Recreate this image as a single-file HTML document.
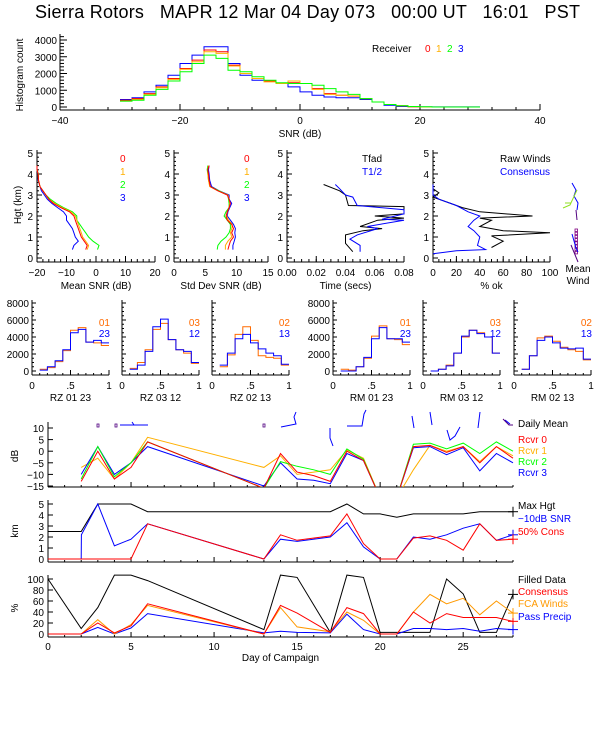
<!DOCTYPE html>
<html><head><meta charset="utf-8"><style>
html,body{margin:0;padding:0;background:#fff;}
svg{display:block;font-family:"Liberation Sans",sans-serif;}
</style></head><body>
<svg id="chart" width="600" height="750" viewBox="0 0 600 750" xmlns="http://www.w3.org/2000/svg">
<defs>
<clipPath id="clipdb"><rect x="48" y="420" width="470" height="67"/></clipPath>
</defs>
<text x="35" y="18" font-size="18" fill="#000" textLength="545" lengthAdjust="spacing" xml:space="preserve">Sierra Rotors   MAPR 12 Mar 04 Day 073   00:00 UT   16:01   PST</text>
</svg>
<script>
// ---- Histogram (SNR) data: 2 dB bins starting at -30 ----
const histEdgeStart = -30;
const histBinWidth = 2;
const histRcvr0 = [400,500,800,1200,1700,2300,2800,3400,3300,2500,2000,1700,1550,1400,1450,1400,1100,800,700,650,500,300,150,80,20,0,0,0,0,0];
const histRcvr1 = [350,450,750,1150,1650,2250,2700,3300,3200,2450,2000,1700,1500,1400,1550,1400,1050,750,700,650,500,300,150,80,20,0,0,0,0,0];
const histRcvr2 = [350,400,700,1050,1550,2100,2600,3100,2900,2200,2100,1800,1600,1450,1400,1400,1300,1100,900,750,500,300,150,80,30,10,0,0,0,0];
const histRcvr3 = [450,550,900,1300,1900,2600,3100,3600,3600,2600,1900,1600,1550,1400,1200,900,700,600,550,550,450,300,100,30,10,5,5,5,5,5];
const histXTicks = [-40,-20,0,20,40];
const histYTicks = [0,1000,2000,3000,4000];

// ---- Profiles ----
const profHeights = [4.4,4.2,4.0,3.7,3.4,3.2,3.0,2.8,2.6,2.4,2.2,2.0,1.8,1.6,1.4,1.2,1.0,0.8,0.6,0.4];
const snrMean0 = [-20,-20,-19.6,-19.5,-19,-18,-17,-16,-14.5,-12,-9,-7.5,-7,-6.5,-6,-5.5,-5,-4,-3,-3.5];
const snrMean1 = [-20,-20,-19.6,-19.5,-19,-18,-17,-16,-14,-11.5,-8.5,-7,-6.5,-6,-5.5,-5,-4.5,-3.5,-2.5,-3];
const snrMean2 = [-20,-20,-19.5,-19.5,-19,-18,-17,-15.5,-13.5,-11,-8,-6.5,-6.5,-5.5,-4.5,-3.5,-2.5,-1,1,0.5];
const snrMean3 = [-20,-20,-19.7,-19.6,-19,-18.5,-17.5,-16.5,-15,-13,-11,-10,-10,-9,-8,-7.5,-7,-6,-7.5,-8];
const snrSd0 = [5.6,5.4,5.5,5.6,5.8,7,8.5,8.8,9,8.8,8.5,8.3,8.5,9.2,9.5,9.2,9.5,9,8.8,8.6];
const snrSd1 = [5.5,5.4,5.4,5.5,5.7,7,8.6,8.8,8.9,8.8,8.5,8.4,8.7,9.3,9.2,9,9.2,8.6,8.2,8.2];
const snrSd2 = [5.4,5.3,5.4,5.5,5.8,7.2,8.6,8.7,8.8,8.8,8.3,8,8.5,9,9,8.8,8.3,7.5,7,6.9];
const snrSd3 = [5.6,5.5,5.6,5.7,6,7.2,8.8,8.8,9.2,8.9,8.6,8.5,9,9.5,9.8,9.7,9.8,9.6,9.4,9.4];
const tfadHgt = [3.5,3.2,3.0,2.5,2.45,2.1,2.0,1.9,1.8,1.5,1.4,1.3,1.1,0.9,0.7,0.3];
const tfadVal = [0.025,0.036,0.04,0.042,0.08,0.08,0.06,0.08,0.062,0.05,0.065,0.052,0.04,0.04,0.04,0.045];
const thalfHgt = [3.5,3.3,3.0,2.9,2.5,2.3,2.1,1.85,1.8,1.5,1.4,1.1,0.9,0.6,0.3];
const thalfVal = [0.033,0.036,0.04,0.045,0.048,0.08,0.08,0.065,0.08,0.055,0.062,0.048,0.043,0.05,0.05];
const rawHgt = [3.3,3.1,2.9,2.6,2.4,2.2,2.0,1.9,1.8,1.5,1.3,1.2,1.05,0.8,0.5];
const rawVal = [0,5,0,15,25,40,85,40,50,40,60,100,50,60,50];
const consHgt = [3.5,3.0,2.8,2.5,2.2,2.0,1.8,1.5,1.3,1.0,0.6,0.4,0.35,0.2];
const consVal = [0,0,5,20,30,40,35,30,35,40,38,45,20,0];

// ---- Small correlation histograms: 9 bins from 0.1 to 1.0 ----
const corrEdgeStart = 0.1;
const corrBinWidth = 0.1;
const corrTitles = ["RZ  01 23","RZ  03 12","RZ  02 13","RM  01 23","RM  03 12","RM  02 13"];
const corrLegendA = ["01","03","02","01","03","02"];
const corrLegendB = ["23","12","13","23","12","13"];
const corrOrange = [
 [200,400,1100,2400,4800,5100,3400,3300,3000],
 [300,1000,2500,4900,5600,3700,2500,2100,900],
 [500,1900,4300,5200,3600,1800,1600,1500,700],
 [200,100,500,1500,4100,5300,3800,3700,3100],
 [0,200,700,2100,4000,4800,4500,4000,2100],
 [200,1800,3900,4100,3500,2800,2500,2300,1300]];
const corrBlue = [
 [100,500,1200,2500,4500,4900,3400,3600,3300],
 [200,700,2300,5200,6100,3700,2500,2300,1000],
 [700,2100,3800,4300,3300,2600,2100,1800,800],
 [0,0,500,1600,3800,5100,3800,3800,3400],
 [0,200,600,2100,4100,4800,4400,4000,2100],
 [200,1800,3600,4000,3300,2700,2600,2700,1400]];
const corrYTicks = [0,2000,4000,6000,8000];

// ---- Campaign time series ----
const dbDays = [2,3,4,5,6,13,14,15,16,17,18,19,20,21,22,23,24,25,26,27,28];
const dbRcvr0 = [-13,0,-12,-7,4,-16,-1,-9,-10.5,-13,0,-4,-20,-20,2,2.5,-0.5,2,-5,2,-3];
const dbRcvr1 = [-7,-3,-12,-5,6,-7,-2,-10,-9,-8,0.5,-3,-20,-20,-8,2.5,0,2,-4.5,2,-2];
const dbRcvr2 = [-12,2,-11,-5,4,-16,-4.5,-6.5,-8,-10,1,-3.5,-20,-20,3,3.5,1,3.5,-1,4,0];
const dbRcvr3 = [-10,2,-10,-5,2,-15,-5,-12,-12.5,-14,-1,-4,-20,-20,1.5,2,-1.5,1.5,-8.5,-1,-5];
const dbYTicks = [-15,-10,-5,0,5,10];
const maxHgtDays = [0,1,2,3,4,5,6,13,14,15,16,17,18,19,20,21,22,23,24,25,26,27,28];
const maxHgtKm = [2.5,2.5,2.5,5,5,5,4.3,4.3,4.3,4.3,4.3,4.3,5,4.1,4.1,3.8,4.1,4.1,4.1,4.1,4.3,4.3,4.3];
const snr10Days = [0,2,2.01,3,4,5,6,13,14,15,17,18,19,20,21,22,23,24,25,26,27,28];
const snr10Km = [0,0,2.2,5,1.2,1.8,3.2,0,1.8,1.6,2,3.3,1.1,0,0,2,1.8,2.2,2.8,3.2,1.7,2.2];
const cons50Days = [0,5,6,13,14,15,17,18,19,20,21,22,23,24,25,26,27,28];
const cons50Km = [0,0,3.2,0,2.2,1.7,2.1,4.1,1.4,0,0,1.9,2.1,1.7,0.8,3.2,1.7,1.8];
const kmYTicks = [0,1,2,3,4,5];
const pctDays = [0,2,3,4,5,6,13,14,15,17,18,19,20,21,22,23,24,25,26,27,28];
const pctFilled = [100,10,48,107,107,97,8,107,103,3,107,103,3,3,3,3,100,73,3,3,72];
const pctCons = [0,0,20,2,15,55,0,52,38,3,48,37,0,0,40,20,37,30,30,30,23];
const pctFca = [0,0,26,0,17,52,0,48,13,4,40,25,0,0,40,72,55,65,35,60,38];
const pctPrecip = [0,0,12,0,11,37,2,5,3,2,36,8,0,0,10,10,8,10,5,10,8];
const pctYTicks = [0,20,40,60,80,100];
const dayTicks = [0,5,10,15,20,25];

const svg = document.getElementById('chart');
const NS = 'http://www.w3.org/2000/svg';
function mk(tag, attrs, parent){const e=document.createElementNS(NS,tag);for(const k in attrs)e.setAttribute(k,attrs[k]);(parent||svg).appendChild(e);return e;}
function txt(x,y,s,color,anchor,size,name,parent){
  const t=mk('text',{x:x,y:y,fill:color||'#000','font-size':size||10,'text-anchor':anchor||'start'},parent);
  t.textContent=s;
  
  
  return t;}
function poly(pts,color,name,parent,w){
  const p=mk('polyline',{points:pts.map(q=>q[0].toFixed(1)+','+q[1].toFixed(1)).join(' '),fill:'none',stroke:color,'stroke-width':w||1},parent);
  
  
  return p;}
function ln(x1,y1,x2,y2,color,name,parent){
  const l=mk('line',{x1:x1,y1:y1,x2:x2,y2:y2,stroke:color||'#000','stroke-width':1},parent);
  
  
  return l;}
function lin(d0,d1,p0,p1){return v=>p0+(v-d0)*(p1-p0)/(d1-d0);}
function stepPts(start,w,vals,sx,sy,base){
  const pts=[];vals.forEach((v,i)=>{const a=start+i*w;pts.push([sx(a),sy(v)]);pts.push([sx(a+w),sy(v)]);});return pts;}

const RED='#ff0000',ORG='#ffb000',GRN='#00ff00',BLU='#0000ff',ORG2='#ff6a00',FCA='#ff9900';

// ===== Histogram panel =====
{
 const g=mk('g',{});
 
 
 const sx=lin(-40,40,60,540), sy=lin(0,4000,107,40);
 ln(60,110,540,110,'#000','x-axis',g); ln(60,34,60,110,'#000','y-axis',g);
 for(let v=0;v<=4200;v+=200){const y=sy(v);ln(60,y,v%1000===0?67:64,y,'#000','y-tick',g);}
 histXTicks.forEach(v=>{ln(sx(v),110,sx(v),104,'#000','x-tick',g);txt(sx(v),124,String(v).replace('-','\u2212'),'#000','middle',10,'x-tick-label',g);});
 for(let v=-40;v<=40;v+=4){ln(sx(v),110,sx(v),107,'#000','x-minor-tick',g);}
 histYTicks.forEach(v=>txt(57,sy(v)+4,String(v),'#000','end',10,'y-tick-label',g));
 txt(300,137,'SNR (dB)','#000','middle',10,'x-axis-title',g);
 const yt=txt(0,0,'Histogram count','#000','middle',10,'y-axis-title',g); yt.setAttribute('transform','translate(23,75) rotate(-90)');
 [[histRcvr3,BLU,'hist-rcvr-3'],[histRcvr0,RED,'hist-rcvr-0'],[histRcvr1,ORG,'hist-rcvr-1'],[histRcvr2,GRN,'hist-rcvr-2']].forEach(s=>poly(stepPts(histEdgeStart,histBinWidth,s[0],sx,sy),s[1],s[2],g));
 txt(372,52,'Receiver','#000','start',10,'legend-title',g);
 txt(425,52,'0',RED,'start',10,'legend-entry-0',g);txt(436,52,'1',ORG,'start',10,'legend-entry-1',g);
 txt(447,52,'2',GRN,'start',10,'legend-entry-2',g);txt(458,52,'3',BLU,'start',10,'legend-entry-3',g);
}

// ===== Profile panels =====
const pky=lin(0,5,258,153);
function profPanel(name,x0,x1,d0,d1,ticks,fmt,title,minor){
 const g=mk('g',{});
 
 
 const sx=lin(d0,d1,x0,x1);
 ln(x0,262,x1,262,'#000','x-axis',g); ln(x0,150,x0,262,'#000','y-axis',g);
 for(let k=0;k<=5;k++){ln(x0,pky(k),x0+5,pky(k),'#000','y-tick',g);txt(x0-4,pky(k)+4,String(k),'#000','end',10,'y-tick-label',g);}
 for(let k=0.2;k<5;k+=0.2){ln(x0,pky(k),x0+2,pky(k),'#000','y-minor-tick',g);}
 ticks.forEach(v=>{ln(sx(v),262,sx(v),256,'#000','x-tick',g);txt(sx(v),276,fmt(v),'#000','middle',10,'x-tick-label',g);});
 for(let v=d0;v<=d1+1e-9;v+=minor){ln(sx(v),262,sx(v),259,'#000','x-minor-tick',g);}
 txt((x0+x1)/2,289,title,'#000','middle',10,'x-axis-title',g);
 return {g,sx};
}
{
 const p=profPanel('mean-snr-panel',37,155,-20,20,[-20,-10,0,10,20],v=>String(v).replace('-','\u2212'),'Mean SNR (dB)',2);
 [[snrMean3,BLU,'mean-snr-rcvr-3'],[snrMean2,GRN,'mean-snr-rcvr-2'],[snrMean1,ORG,'mean-snr-rcvr-1'],[snrMean0,RED,'mean-snr-rcvr-0']].forEach(s=>poly(profHeights.map((h,i)=>[p.sx(s[0][i]),pky(h)]),s[1],s[2],p.g));
 txt(120,162,'0',RED,'start',10,'legend-0',p.g);txt(120,175,'1',ORG,'start',10,'legend-1',p.g);txt(120,188,'2',GRN,'start',10,'legend-2',p.g);txt(120,201,'3',BLU,'start',10,'legend-3',p.g);
 const yt=txt(0,0,'Hgt (km)','#000','middle',10,'y-axis-title',p.g); yt.setAttribute('transform','translate(21,205) rotate(-90)');
}
{
 const p=profPanel('std-snr-panel',174,268,0,15,[0,5,10,15],v=>String(v),'Std Dev SNR (dB)',1);
 [[snrSd3,BLU,'std-snr-rcvr-3'],[snrSd2,GRN,'std-snr-rcvr-2'],[snrSd1,ORG,'std-snr-rcvr-1'],[snrSd0,RED,'std-snr-rcvr-0']].forEach(s=>poly(profHeights.map((h,i)=>[p.sx(s[0][i]),pky(h)]),s[1],s[2],p.g));
 txt(244,162,'0',RED,'start',10,'legend-0',p.g);txt(244,175,'1',ORG,'start',10,'legend-1',p.g);txt(244,188,'2',GRN,'start',10,'legend-2',p.g);txt(244,201,'3',BLU,'start',10,'legend-3',p.g);
}
{
 const p=profPanel('time-panel',287,404,0,0.08,[0,0.02,0.04,0.06,0.08],v=>v.toFixed(2),'Time (secs)',0.005);
 poly(tfadHgt.map((h,i)=>[p.sx(tfadVal[i]),pky(h)]),'#000','tfad-line',p.g);
 poly(thalfHgt.map((h,i)=>[p.sx(thalfVal[i]),pky(h)]),BLU,'thalf-line',p.g);
 txt(362,162,'Tfad','#000','start',10,'legend-tfad',p.g);txt(362,175,'T1/2',BLU,'start',10,'legend-thalf',p.g);
}
{
 const p=profPanel('percent-ok-panel',433,550,0,100,[0,20,40,60,80,100],v=>String(v),'% ok',5);
 poly(rawHgt.map((h,i)=>[p.sx(rawVal[i]),pky(h)]),'#000','raw-winds-line',p.g);
 poly(consHgt.map((h,i)=>[p.sx(consVal[i]),pky(h)]),BLU,'consensus-line',p.g);
 txt(500,162,'Raw Winds','#000','start',10,'legend-raw-winds',p.g);txt(500,175,'Consensus',BLU,'start',10,'legend-consensus',p.g);
}
{
 const g=mk('g',{});
 
 
 poly([[572,183],[576,190],[574,196],[578,203],[577,210]],BLU,'wind-barb',g);
 poly([[577,190],[570,205],[563,208]],'#90e020','wind-barb',g);
 poly([[565,203],[571,203]],'#90e020','wind-barb',g);
 poly([[576,210],[577,220]],'#500080','wind-barb',g);
 for(let i=0;i<8;i++){const r=mk('rect',{x:575,y:229+i*3.2,width:2.5,height:2.5,fill:'none',stroke:'#800080','stroke-width':0.8},g);}
 poly([[572,234],[576,248],[578,252]],BLU,'wind-barb',g);
 poly([[571,245],[578,262]],'#500080','wind-barb',g);
 txt(578,272,'Mean','#000','middle',10,'mean-wind-label',g);txt(578,284,'Wind','#000','middle',10,'mean-wind-label-2',g);
}

// ===== Correlation histograms =====
const corrX0=[32,122,212,333,423,514], corrW=77;
const csy=lin(0,8000,371,303);
corrTitles.forEach((title,k)=>{
 const g=mk('g',{});
 
 
 const x0=corrX0[k], sx=lin(0,1,x0,x0+corrW);
 ln(x0,375,x0+corrW,375,'#000','x-axis',g); ln(x0,300,x0,375,'#000','y-axis',g);
 corrYTicks.forEach(v=>{ln(x0,csy(v),x0+4,csy(v),'#000','y-tick',g); if(k===0||k===3) txt(x0-3,csy(v)+4,String(v),'#000','end',10,'y-tick-label',g);});
 for(let v=500;v<8200;v+=500){ln(x0,csy(v),x0+2,csy(v),'#000','y-minor-tick',g);}
 [[0,'0'],[0.5,'.5'],[1,'1']].forEach(t=>{ln(sx(t[0]),375,sx(t[0]),370,'#000','x-tick',g);txt(sx(t[0]),389,t[1],'#000','middle',10,'x-tick-label',g);});
 for(let v=0.1;v<1;v+=0.1){ln(sx(v),375,sx(v),373,'#000','x-minor-tick',g);}
 poly(stepPts(corrEdgeStart,corrBinWidth,corrOrange[k],sx,csy),ORG2,'corr-orange-line',g);
 poly(stepPts(corrEdgeStart,corrBinWidth,corrBlue[k],sx,csy),BLU,'corr-blue-line',g);
 txt(x0+corrW+1,326,corrLegendA[k],ORG2,'end',10,'legend-a',g);
 txt(x0+corrW+1,337,corrLegendB[k],BLU,'end',10,'legend-b',g);
 txt(sx(0.5),401,title,'#000','middle',10,'x-axis-title',g).setAttribute('xml:space','preserve');
});

// ===== Time series =====
const dx=lin(0,28,48,513);
function tsAxes(g,yTop,yBot,ticks,sy,fmt,minor){
 ln(48,yBot,513,yBot,'#000','x-axis',g); ln(48,yTop,48,yBot,'#000','y-axis',g);
 ticks.forEach(v=>{ln(48,sy(v),53,sy(v),'#000','y-tick',g);txt(44,sy(v)+4,fmt(v),'#000','end',10,'y-tick-label',g);});
 for(let d=0;d<=28;d++){ln(dx(d),yBot,dx(d),yBot-(d%5===0?5:2),'#000','x-tick',g);}
}
{
 const g=mk('g',{});
 
 
 const sy=lin(-15,10,486,428);
 tsAxes(g,422,487,dbYTicks,sy,v=>String(v).replace('-','\u2212'));
 const cg=mk('g',{'clip-path':'url(#clipdb)'},g);
 [[dbRcvr1,ORG,'rcvr-1-line'],[dbRcvr3,BLU,'rcvr-3-line'],[dbRcvr2,GRN,'rcvr-2-line'],[dbRcvr0,RED,'rcvr-0-line']].forEach(s=>poly(dbDays.map((d,i)=>[dx(d),sy(s[0][i])]),s[1],s[2],cg));
 const yt=txt(0,0,'dB','#000','middle',10,'y-axis-title',g); yt.setAttribute('transform','translate(18,456) rotate(-90)');
 txt(518,427,'Daily Mean','#000','start',10,'legend-daily-mean',g);
 txt(518,443,'Rcvr 0',RED,'start',10,'legend-rcvr-0',g);txt(518,454,'Rcvr 1',ORG,'start',10,'legend-rcvr-1',g);
 txt(518,465,'Rcvr 2',GRN,'start',10,'legend-rcvr-2',g);txt(518,476,'Rcvr 3',BLU,'start',10,'legend-rcvr-3',g);
 [[97,424,'#500080'],[115,424,'#500080'],[263,424,'#500080']].forEach(b=>{const r=mk('rect',{x:b[0],y:b[1],width:2,height:3,fill:'none',stroke:b[2],'stroke-width':0.8},g);});
 [[[120,425],[148,425]],[[132,422],[134,425]],[[281,427],[296,424],[294,417],[296,412]],[[330,428],[330,438],[333,446]],[[347,426],[362,426],[364,414],[366,410]],[[412,416],[414,428]],[[430,412],[432,425]],[[447,430],[450,440],[455,436],[460,427]],[[480,412],[478,428]],[[505,420],[510,424]]].forEach(pp=>poly(pp,BLU,'wind-barb',g));
 poly([[503,419],[509,425],[513,425]],'#500080','wind-barb',g);
}
{
 const g=mk('g',{});
 
 
 const sy=lin(0,5,559,504);
 tsAxes(g,500,562,kmYTicks,sy,v=>String(v));
 poly(maxHgtDays.map((d,i)=>[dx(d),sy(maxHgtKm[i])]),'#000','max-hgt-line',g);
 poly(snr10Days.map((d,i)=>[dx(d),sy(snr10Km[i])]),BLU,'snr-10db-line',g);
 poly(cons50Days.map((d,i)=>[dx(d),sy(cons50Km[i])]),RED,'cons-50-line',g);
 [[maxHgtKm,'#000'],[snr10Km,BLU],[cons50Km,RED]].forEach(s=>{const v=s[0][s[0].length-1];ln(dx(28)-5,sy(v),dx(28)+5,sy(v),s[1],'end-marker',g);ln(dx(28),sy(v)-5,dx(28),sy(v)+5,s[1],'end-marker',g);});
 const yt=txt(0,0,'km','#000','middle',10,'y-axis-title',g); yt.setAttribute('transform','translate(18,531) rotate(-90)');
 txt(518,509,'Max Hgt','#000','start',10,'legend-max-hgt',g);
 txt(518,522,'\u221210dB SNR',BLU,'start',10,'legend-snr-10db',g);
 txt(518,535,'50% Cons',RED,'start',10,'legend-cons-50',g);
}
{
 const g=mk('g',{});
 
 
 const sy=lin(0,100,634,579);
 tsAxes(g,575,637,pctYTicks,sy,v=>String(v));
 poly(pctDays.map((d,i)=>[dx(d),sy(pctFilled[i])]),'#000','filled-data-line',g);
 poly(pctDays.map((d,i)=>[dx(d),sy(pctPrecip[i])]),BLU,'pass-precip-line',g);
 poly(pctDays.map((d,i)=>[dx(d),sy(pctFca[i])]),FCA,'fca-winds-line',g);
 poly(pctDays.map((d,i)=>[dx(d),sy(pctCons[i])]),RED,'consensus-line',g);
 [[pctFilled,'#000'],[pctCons,RED],[pctFca,FCA],[pctPrecip,BLU]].forEach(s=>{const v=s[0][s[0].length-1];ln(dx(28)-5,sy(v),dx(28)+5,sy(v),s[1],'end-marker',g);ln(dx(28),sy(v)-5,dx(28),sy(v)+5,s[1],'end-marker',g);});
 dayTicks.forEach(d=>txt(dx(d),650,String(d),'#000','middle',10,'x-tick-label',g));
 txt(dx(14),661,'Day of Campaign','#000','middle',10,'x-axis-title',g);
 const yt=txt(0,0,'%','#000','middle',10,'y-axis-title',g); yt.setAttribute('transform','translate(18,608) rotate(-90)');
 txt(518,583,'Filled Data','#000','start',10,'legend-filled-data',g);
 txt(518,595,'Consensus',RED,'start',10,'legend-consensus',g);
 txt(518,607,'FCA Winds',FCA,'start',10,'legend-fca-winds',g);
 txt(518,620,'Pass Precip',BLU,'start',10,'legend-pass-precip',g);
}
</script>
</body></html>
